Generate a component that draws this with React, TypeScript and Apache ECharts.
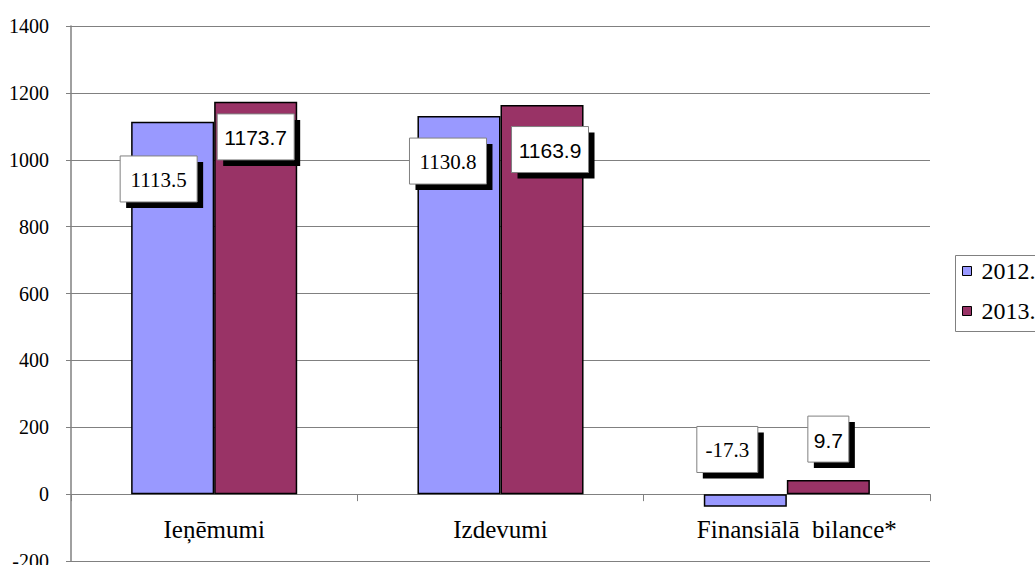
import React, { useEffect, useRef } from "react";
import * as echarts from "echarts";

const categories = ["Ieņēmumi", "Izdevumi", "Finansiālā  bilance*"];
const seriesNames = ["2012.", "2013."];
const values2012 = [1113.5, 1130.8, -38];
const values2013 = [1173.7, 1163.9, 42];
const labels2012 = ["1113.5", "1130.8", "-17.3"];
const labels2013 = ["1173.7", "1163.9", "9.7"];
const yTicks = { min: -200, max: 1400, interval: 200 };

// layout (pixels): offset of box centre from bar-rect centre, box widths, category label padding
const offsets2012: [number, number][] = [[-14, -129], [-11, -144], [-18, -51]];
const offsets2013: [number, number][] = [[0, -161], [8, -150], [0, -48]];
const boxW2012 = [77, 77, 61];
const boxW2013 = [77, 77, 41];
const catLabelPadLeft = [0, 0, 20];
const BOX_H = 46;
const CAT_GAP = 0.42;

const SERIF = "Liberation Serif";
const SANS = "Liberation Sans";

function labelSeries(
  name: string,
  values: number[],
  labels: string[],
  offsets: [number, number][],
  widths: number[],
  font: string,
  side: number
) {
  return {
    type: "custom",
    name,
    z: 10,
    silent: true,
    data: values.map((v, i) => [i, v]),
    encode: { x: 0, y: 1 },
    renderItem: (params: any, api: any) => {
      const i = params.dataIndex;
      const cat = api.value(0);
      const v = api.value(1);
      const top = api.coord([cat, v]);
      const zero = api.coord([cat, 0]);
      const cw = api.size([1, 0])[0];
      const bw = (cw * (1 - CAT_GAP)) / 2;
      const cx = top[0] + (side * bw) / 2 + offsets[i][0];
      const cy = (top[1] + zero[1]) / 2 + offsets[i][1];
      const w = widths[i];
      return {
        type: "group",
        x: cx,
        y: cy,
        children: [
          {
            type: "rect",
            shape: { x: -w / 2 + 6, y: -BOX_H / 2 + 6, width: w, height: BOX_H },
            style: { fill: "#000" },
          },
          {
            type: "rect",
            shape: { x: -w / 2, y: -BOX_H / 2, width: w, height: BOX_H },
            style: { fill: "#fff", stroke: "#808080", lineWidth: 1 },
          },
          {
            type: "text",
            x: 0,
            y: 1,
            style: {
              text: labels[i],
              fill: "#000",
              fontFamily: font,
              fontSize: 21,
              align: "center",
              verticalAlign: "middle",
            },
          },
        ],
      };
    },
  };
}

export default function App() {
  const ref = useRef<HTMLDivElement>(null);
  useEffect(() => {
    if (!ref.current) return;
    const chart = echarts.init(ref.current, undefined, { renderer: "svg" });
    chart.setOption({
      animation: false,
      backgroundColor: "#fff",
      grid: { left: 71, right: 105, top: 26, bottom: 4, outerBoundsMode: "none", containLabel: false },
      legend: {
        orient: "vertical",
        left: 962,
        top: 256,
        padding: 0,
        itemWidth: 9,
        itemHeight: 9,
        itemGap: 10,
        icon: "rect",
        textStyle: { fontFamily: SERIF, fontSize: 24, lineHeight: 30, color: "#000", padding: [0, 0, 0, 5] },
        itemStyle: { borderColor: "#000", borderWidth: 1 },
        data: seriesNames,
      },
      graphic: [
        {
          type: "rect",
          left: 953,
          top: 253,
          shape: { width: 200, height: 76 },
          style: { fill: "none", stroke: "#808080", lineWidth: 1 },
          silent: true,
        },
      ],
      xAxis: {
        type: "category",
        data: categories.map((c, i) => ({
          value: c,
          textStyle: { padding: [0, 0, 0, catLabelPadLeft[i]] },
        })),
        axisLine: { onZero: true, lineStyle: { color: "#808080", width: 1 } },
        axisTick: { show: true, length: 7, lineStyle: { color: "#808080" } },
        axisLabel: { color: "#000", fontFamily: SERIF, fontSize: 25, margin: -44 },
        splitLine: { show: false },
      },
      yAxis: {
        type: "value",
        min: yTicks.min,
        max: yTicks.max,
        interval: yTicks.interval,
        axisLine: { show: true, lineStyle: { color: "#808080", width: 1.5 } },
        axisTick: { show: true, length: 5, lineStyle: { color: "#808080" } },
        axisLabel: {
          color: "#000",
          fontFamily: SERIF,
          fontSize: 20,
          margin: 22,
          formatter: (v: number) => String(v),
        },
        splitLine: { show: true, lineStyle: { color: "#808080", width: 1 } },
      },
      series: [
        {
          name: seriesNames[0],
          type: "bar",
          barGap: "0%",
          barCategoryGap: `${CAT_GAP * 100}%`,
          itemStyle: { color: "#9999FF", borderColor: "#000", borderWidth: 1.5 },
          data: values2012,
        },
        {
          name: seriesNames[1],
          type: "bar",
          barGap: "0%",
          barCategoryGap: `${CAT_GAP * 100}%`,
          itemStyle: { color: "#993366", borderColor: "#000", borderWidth: 1.5 },
          data: values2013,
        },
        labelSeries("lbl2012", values2012, labels2012, offsets2012, boxW2012, SERIF, -1),
        labelSeries("lbl2013", values2013, labels2013, offsets2013, boxW2013, SANS, 1),
      ],
    });
    return () => chart.dispose();
  }, []);
  return (
    <div
      ref={ref}
      style={{ position: "fixed", left: 0, top: 0, width: 1035, height: 565, background: "#fff" }}
    />
  );
}
